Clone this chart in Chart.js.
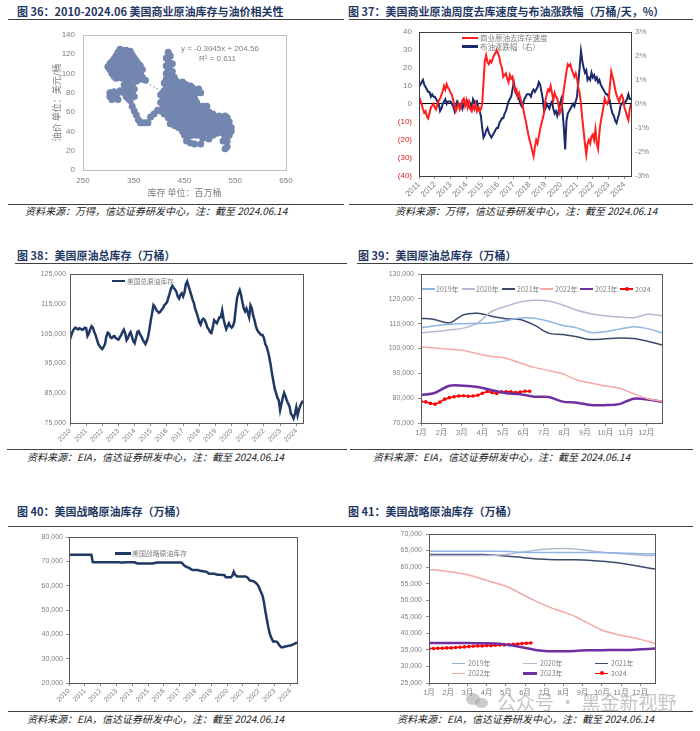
<!DOCTYPE html>
<html><head><meta charset="utf-8">
<script src="https://cdn.jsdelivr.net/npm/chart.js@4.4.1/dist/chart.umd.min.js"></script>
<style>
body{margin:0;background:#fff;width:700px;height:731px;position:relative;overflow:hidden;font-family:'Noto Sans CJK SC',sans-serif;}
.t{position:absolute;font-weight:700;color:#1f3864;font-size:11px;white-space:nowrap;line-height:1;}
.r{position:absolute;height:1px;background:#404040;}
.s{position:absolute;font-style:italic;font-size:10px;color:#222;white-space:nowrap;line-height:1;}
canvas{position:absolute;}
.lg{position:absolute;font-size:7px;color:#7f7f7f;white-space:nowrap;line-height:1;}
.ln{position:absolute;height:2px;}
.dot{position:absolute;width:4px;height:4px;border-radius:50%;background:#ff0000;}
.an{position:absolute;font-size:8px;color:#7f7f7f;white-space:nowrap;line-height:1;font-family:'Liberation Sans',sans-serif;}
.wm{position:absolute;font-size:19px;color:rgba(150,150,150,0.55);white-space:nowrap;line-height:1;z-index:5;}
.wi{position:absolute;border-radius:50%;background:rgba(160,160,160,0.55);z-index:5;}
</style></head><body>

<div class="t" style="left:17px;top:6px">图 36：2010-2024.06 美国商业原油库存与油价相关性</div>
<div class="t" style="left:348px;top:6px">图 37：美国商业原油周度去库速度与布油涨跌幅（万桶/天，%）</div>
<div class="t" style="left:17px;top:250px">图 38：美国原油总库存（万桶）</div>
<div class="t" style="left:358px;top:250px">图 39：美国原油总库存（万桶）</div>
<div class="t" style="left:17px;top:506px">图 40：美国战略原油库存（万桶）</div>
<div class="t" style="left:348px;top:506px">图 41：美国战略原油库存（万桶）</div>

<div class="r" style="left:8px;top:19px;width:336px"></div>
<div class="r" style="left:349px;top:19px;width:344px"></div>
<div class="r" style="left:15px;top:263px;width:332px"></div>
<div class="r" style="left:357px;top:263px;width:336px"></div>
<div class="r" style="left:8px;top:526px;width:342px"></div>
<div class="r" style="left:350px;top:526px;width:343px"></div>

<div class="r" style="left:8px;top:204px;width:336px"></div>
<div class="r" style="left:349px;top:204px;width:344px"></div>
<div class="r" style="left:7px;top:449px;width:340px"></div>
<div class="r" style="left:350px;top:449px;width:343px"></div>
<div class="r" style="left:8px;top:711px;width:342px"></div>
<div class="r" style="left:350px;top:711px;width:343px"></div>

<div class="s" style="left:25px;top:206px">资料来源：万得，信达证券研发中心，注：截至 2024.06.14</div>
<div class="s" style="left:395px;top:206px">资料来源：万得，信达证券研发中心，注：截至 2024.06.14</div>
<div class="s" style="left:27px;top:452px">资料来源：EIA，信达证券研发中心，注：截至 2024.06.14</div>
<div class="s" style="left:373px;top:452px">资料来源：EIA，信达证券研发中心，注：截至 2024.06.14</div>
<div class="s" style="left:27px;top:714px">资料来源：EIA，信达证券研发中心，注：截至 2024.06.14</div>
<div class="s" style="left:397px;top:714px">资料来源：EIA，信达证券研发中心，注：截至 2024.06.14</div>

<canvas id="c36" width="260" height="180" style="left:45px;top:22px"></canvas>
<canvas id="c37" width="295" height="185" style="left:370px;top:20px"></canvas>
<canvas id="c38" width="295" height="182" style="left:15px;top:265px"></canvas>
<canvas id="c39" width="312" height="180" style="left:360px;top:265px"></canvas>
<canvas id="c40" width="292" height="180" style="left:15px;top:528px"></canvas>
<canvas id="c41" width="300" height="180" style="left:365px;top:525px"></canvas>

<!-- chart 36 annotation -->
<div class="an" style="left:181px;top:45px">y = -0.3045x + 204.56</div>
<div class="an" style="left:199px;top:55px">R² = 0.611</div>

<!-- chart 37 legend -->
<div class="ln" style="left:462px;top:36.5px;width:16px;height:2.5px;background:#ff1f1f"></div>
<div class="lg" style="left:480px;top:34px;font-size:7.5px">商业原油去库存速度</div>
<div class="ln" style="left:462px;top:45px;width:16px;height:2.5px;background:#1b2a6b"></div>
<div class="lg" style="left:480px;top:42.5px;font-size:7.5px">布油涨跌幅（右）</div>

<!-- chart 38 legend -->
<div class="ln" style="left:112px;top:279.5px;width:13px;height:2.5px;background:#1f3864"></div>
<div class="lg" style="left:127px;top:277.5px;font-size:6.7px">美国总原油库存</div>

<!-- chart 40 legend -->
<div class="ln" style="left:115px;top:552px;width:16px;height:2.5px;background:#1f3864"></div>
<div class="lg" style="left:132px;top:550px;font-size:6.9px">美国战略原油库存</div>

<!-- chart 39 legend -->
<div class="ln" style="left:422px;top:288px;width:13px;height:1.5px;background:#8eb4e3"></div>
<div class="lg" style="left:436px;top:285.5px">2019年</div>
<div class="ln" style="left:462px;top:288px;width:13px;height:1.5px;background:#b4bad3"></div>
<div class="lg" style="left:476px;top:285.5px">2020年</div>
<div class="ln" style="left:502px;top:288px;width:13px;height:1.5px;background:#3b4a6b"></div>
<div class="lg" style="left:517px;top:285.5px">2021年</div>
<div class="ln" style="left:540px;top:288px;width:13px;height:1.5px;background:#f6a8a6"></div>
<div class="lg" style="left:555px;top:285.5px">2022年</div>
<div class="ln" style="left:580px;top:287.5px;width:13px;height:2.5px;background:#7030a0"></div>
<div class="lg" style="left:595px;top:285.5px">2023年</div>
<div class="ln" style="left:620px;top:288px;width:13px;height:1.5px;background:#ff0000"></div>
<div class="dot" style="left:624.5px;top:286.7px"></div>
<div class="lg" style="left:635px;top:285.5px">2024</div>

<!-- chart 41 legend -->
<div class="ln" style="left:452px;top:662.5px;width:13px;height:1.5px;background:#8eb4e3"></div>
<div class="lg" style="left:468px;top:660px">2019年</div>
<div class="ln" style="left:523px;top:662.5px;width:14px;height:1.5px;background:#b4bad3"></div>
<div class="lg" style="left:540px;top:660px">2020年</div>
<div class="ln" style="left:595px;top:662.5px;width:13px;height:1.5px;background:#3b4a6b"></div>
<div class="lg" style="left:611px;top:660px">2021年</div>
<div class="ln" style="left:452px;top:672.5px;width:13px;height:1.5px;background:#f6a8a6"></div>
<div class="lg" style="left:468px;top:670px">2022年</div>
<div class="ln" style="left:523px;top:672px;width:14px;height:2.5px;background:#7030a0"></div>
<div class="lg" style="left:540px;top:670px">2023年</div>
<div class="ln" style="left:595px;top:672.5px;width:13px;height:1.5px;background:#ff0000"></div>
<div class="dot" style="left:599.5px;top:671.2px"></div>
<div class="lg" style="left:611px;top:670px">2024</div>

<!-- watermark -->
<div class="wi" style="left:466px;top:693px;width:14px;height:12px"></div>
<div class="wi" style="left:475px;top:698px;width:13px;height:10px"></div>
<div class="wm" style="left:497px;top:692px">公众号 · 黑金新视野</div>

<script>
// ---------------- DATA ----------------
// Chart 36: commercial crude stocks (million bbl) vs oil price (USD/bbl); columns [stock, [prices...]]
const scatterCols36 = [
  [299,[107]],
  [303,[104,110,76,80]],
  [307,[112,100,73,78]],
  [311,[115,106,97,75,81]],
  [315,[118,110,102,95,77]],
  [319,[122,114,106,99,80,73]],
  [323,[125,120,111,103,96,82]],
  [327,[124,117,108,100,95]],
  [331,[122,114,106,97,88,80]],
  [335,[124,118,110,102,94,85,76]],
  [339,[121,113,105,98,90,82,74]],
  [343,[123,116,108,100,86,78,72]],
  [347,[119,111,104,95,88,80,66]],
  [351,[116,108,100,84,76,61]],
  [355,[113,106,98,92,57]],
  [359,[110,103,96,52]],
  [363,[108,100,94,49]],
  [367,[104,96,49]],
  [373,[93,49]],
  [378,[49]],
  [383,[55]],
  [390,[58]],
  [397,[62]],
  [403,[61,70,78]],
  [407,[64,72,80]],
  [410,[58,66,74,82,90]],
  [414,[100,108,116,62,70,78,86,94]],
  [418,[122,113,104,54,60,68,76,84,90,97]],
  [422,[118,109,100,48,56,64,72,80,88,94]],
  [426,[110,102,50,58,66,74,82,90]],
  [430,[96,46,54,62,70,78,86]],
  [434,[92,50,58,66,74,82,88]],
  [438,[44,52,60,68,76,84,90]],
  [442,[48,56,64,72,80,88]],
  [446,[40,46,54,62,70,78,86,91]],
  [450,[36,44,52,60,68,76,84,89]],
  [454,[30,40,48,56,64,72,80,88]],
  [458,[35,44,52,60,68,76,84]],
  [462,[28,40,48,56,64,72,80,87]],
  [466,[36,44,52,60,68,78,85]],
  [470,[27,40,48,56,64,74,83]],
  [474,[36,44,52,60,70,80]],
  [478,[40,48,56,66,84]],
  [482,[27,36,44,52,62,80]],
  [486,[33,40,48,56,66]],
  [490,[38,46,54,62]],
  [494,[42,50,58,66]],
  [498,[32,38,46,54,60]],
  [502,[40,48,56]],
  [506,[36,44,52,58]],
  [510,[40,48,55]],
  [514,[38,46,54]],
  [518,[42,50,56]],
  [522,[40,48,55]],
  [526,[30,38,46,54]],
  [530,[22,35,44,52,56]],
  [534,[24,30,40,48,54]],
  [538,[36,42,50]],
  [542,[40,44]]
];
const trendStock36 = [299, 545];
const trendPrice36 = [113.5, 38.6];

// Chart 37: monthly from 2011-01
const start37 = 2011;
const yearTicks37 = [2011,2012,2013,2014,2015,2016,2017,2018,2019,2020,2021,2022,2023,2024];
const draw37 = [ // 商业原油去库存速度 (万桶/天)
  4,2,0,-3,-5,-4,-7,-8,-5,-2,-1,0,
  -2,-3,0,2,3,5,7,10,8,11,9,8,
  6,5,2,-1,-4,-2,0,-3,-1,2,3,-1,
  2,-2,1,-3,-4,-1,-3,0,-4,-2,-4,-3,
  0,12,24,27,23,22,24,23,25,27,28,30,
  28,26,22,20,15,16,17,14,12,16,14,15,
  10,7,8,4,6,3,1,-2,-6,-9,-13,-17,
  -20,-23,-26,-29,-24,-20,-22,-18,-14,-11,-8,-5,
  2,5,8,7,10,6,2,6,4,3,-1,-5,
  -3,2,8,13,18,22,21,22,19,17,15,17,
  14,9,6,0,-8,-15,-22,-28,-22,-20,-22,-18,
  -17,-20,-14,-22,-25,-16,-10,-6,-2,3,1,0,
  2,10,18,15,12,8,5,3,1,4,5,3,
  -2,-4,-7,-9,-3,0
];
const brent37 = [ // 布油涨跌幅 (%)
  0.7,0.8,0.9,1.0,0.8,0.7,0.6,0.5,0.5,0.3,0.4,0.3,
  0.3,0.2,0.1,0.0,-0.3,-0.2,0.0,0.1,0.2,0.0,0.1,0.1,
  0.1,0.0,-0.1,-0.3,-0.1,0.1,0.0,-0.1,0.0,-0.2,0.0,0.1,
  0.0,0.1,-0.1,0.0,-0.2,0.2,0.1,0.0,0.1,-0.1,-0.3,-0.5,
  -1.0,-1.4,-1.3,-1.1,-1.0,-1.2,-1.3,-1.4,-1.3,-1.2,-1.1,-1.0,
  -1.0,-0.8,-0.7,-0.6,-0.6,-0.4,-0.3,-0.1,0.1,0.2,0.3,0.6,
  0.9,0.6,0.4,0.3,0.2,0.0,-0.1,0.0,0.2,0.3,0.4,0.4,
  0.4,0.3,0.5,0.6,0.5,0.6,0.7,0.9,0.8,0.5,0.2,-0.3,
  -0.2,0.0,-0.1,-0.2,0.0,0.1,-0.2,-0.4,-0.3,-0.5,-0.3,0.0,
  0.2,-0.3,-1.0,-1.9,-0.7,-0.4,-0.3,-0.2,-0.1,0.0,-0.1,0.1,
  0.3,0.9,1.5,2.2,1.8,1.5,1.3,1.4,1.0,1.1,1.0,1.3,
  1.1,1.2,1.0,1.1,0.9,1.0,0.8,0.7,0.6,0.5,0.4,0.4,
  0.3,0.1,-0.2,-0.4,-0.5,-0.7,-0.8,-0.6,-0.4,-0.1,0.0,0.1,
  0.0,0.1,0.2,0.4,0.2,0.2
];

// Chart 38 & 40: monthly from 2010-01 (万桶)
const start38 = 2010;
const yearTicks38 = [2010,2011,2012,2013,2014,2015,2016,2017,2018,2019,2020,2021,2022,2023,2024];
const total38 = [
  103100,104500,105800,106500,107000,106700,106400,106800,106600,106300,106500,107000,
  106800,104200,105000,106500,107500,107000,105500,104500,103000,101500,100800,100200,
  99800,100600,101500,104000,105300,105000,103800,103500,104000,104200,103500,103200,
  103000,103800,104500,105500,106300,105000,102800,103500,104800,105500,104000,102500,
  101800,103500,105500,105800,104800,104000,103000,102200,101500,102500,104000,106500,
  109500,112000,114600,114000,113000,112500,112000,112300,113000,113500,114500,115000,
  115500,117000,118500,120200,121000,120300,119800,119000,117500,116800,118000,118500,
  117500,118800,121500,122500,121000,119500,118000,116500,115200,113200,112000,110500,
  108800,108000,109500,110000,109600,108500,107000,106500,105500,105200,107000,109500,
  109000,108500,109500,110500,110500,112800,110000,108000,106500,107500,108500,107500,
  107000,107500,109000,113000,116800,118500,119600,118000,115500,113500,112500,113400,
  112000,110500,114500,113500,111000,109500,107500,106200,105500,105000,104500,104500,
  103500,101500,100600,99000,97000,94500,91500,89000,86500,85000,83500,82600,
  79300,81500,83500,85100,84000,82500,81500,80500,78200,77500,76500,78000,
  80200,77600,79500,80800,81800,82500
];
const spr40 = [
  72700,72700,72700,72700,72700,72700,72700,72700,72700,72700,72700,72700,
  72700,72700,72700,72700,72700,72700,69700,69600,69600,69600,69600,69600,
  69600,69600,69600,69600,69600,69600,69600,69600,69600,69600,69600,69600,
  69600,69600,69600,69500,69500,69500,69500,69600,69600,69600,69600,69600,
  69600,69600,69600,69300,69100,69100,69100,69100,69100,69100,69100,69100,
  69100,69100,69100,69100,69200,69300,69400,69500,69500,69500,69500,69500,
  69500,69500,69500,69500,69500,69500,69500,69500,69500,69500,69500,69500,
  69500,69500,69200,68500,68000,67800,67500,67300,67000,66600,66400,66400,
  66400,66400,66400,66200,66000,66000,65900,65800,65700,65500,65000,64900,
  64900,64900,64900,64800,64600,64500,64500,64500,64400,64400,64300,63500,
  63500,63500,63500,63500,64200,65700,64600,64000,63800,63800,63800,63800,
  63800,63800,63800,63500,63000,62200,62000,62000,61800,61500,61000,60500,
  59500,58200,57000,55600,53000,49500,46500,43500,41000,39200,38000,37000,
  37100,37000,36800,36000,35200,34700,34700,34800,35000,35100,35200,35300,
  35400,35600,35900,36100,36400,36700
];

// Chart 39 & 41: seasonal, x = week of year
const monthLabels = ['1月','2月','3月','4月','5月','6月','7月','8月','9月','10月','11月','12月'];
const weeks = [0,3,6,9,12,15,18,21,24,27,30,33,36,39,42,45,48,51];
const weeks2024 = [0,1,2,3,4,5,6,7,8,9,10,11,12,13,14,15,16,17,18,19,20,21,22,23];
const tot39_2019 = [108400,109200,109800,110000,110100,110400,111200,112300,112200,111000,109300,108300,106400,106800,107800,108800,108000,106300];
const tot39_2020 = [106300,106800,107500,108200,110300,115000,117000,118700,119400,119100,117500,115400,114000,113200,112700,112400,113800,113200];
const tot39_2021 = [112200,111600,110300,113600,114200,113000,112000,111700,109400,106200,105600,104700,103600,103900,104200,104000,102900,101400];
const tot39_2022 = [100700,100200,99700,99200,97900,96800,96100,94200,92400,91100,89800,87300,86100,84900,84000,81800,79800,78800];
const tot39_2023 = [81200,82200,85000,85000,84500,83200,82000,81600,80600,80500,78600,78200,77200,77200,77600,79800,79500,78500];
const tot39_2024 = [78700,78500,77900,77600,78400,79600,80200,80600,80900,81000,80800,80900,81200,82000,82700,82300,81900,82600,82600,82600,82300,82500,82800,82800];
const spr41_2019 = [64800,64800,64800,64800,64800,64800,64700,64500,64400,64400,64400,64400,64400,64400,64300,64200,64000,64000];
const spr41_2020 = [63500,63500,63500,63500,63500,63600,63900,64500,65100,65500,65600,65500,65000,64500,64200,63900,63600,63500];
const spr41_2021 = [63800,63800,63800,63800,63800,63600,63300,62900,62500,62300,62200,62200,62100,61800,61400,60800,60100,59400];
const spr41_2022 = [59300,58900,58400,57600,56400,55200,53900,51800,49800,48000,46600,45100,43000,41000,39800,39000,38100,36900];
const spr41_2023 = [37100,37100,37100,37100,37000,36900,36500,35800,35000,34600,34600,34700,34900,34900,35000,35000,35200,35400];
const spr41_2024 = [35400,35400,35500,35500,35600,35600,35700,35800,35900,36000,36100,36200,36200,36300,36300,36400,36500,36500,36600,36700,36800,36900,37000,37100];

// ---------------- CHARTS ----------------
const GRAY = '#7f7f7f';
Chart.defaults.font.family = "'Liberation Sans','Noto Sans CJK SC',sans-serif";
Chart.defaults.animation = false;
Chart.register({
  id: 'box',
  afterDatasetsDraw(c, a, o) {
    const {ctx, chartArea: r} = c;
    ctx.save();
    ctx.strokeStyle = o.color || '#888';
    ctx.lineWidth = o.width || 1;
    ctx.strokeRect(Math.round(r.left) + 0.5, Math.round(r.top) + 0.5, Math.round(r.right - r.left), Math.round(r.bottom - r.top));
    ctx.restore();
  }
});
const fixW = w => s => { s.width = w; };
const fixH = h => s => { s.height = h; };
const base = (box) => ({
  responsive: false, events: [], devicePixelRatio: 1,
  plugins: { legend: { display: false }, tooltip: { enabled: false }, box: { color: box } }
});
const monthly = (arr, start) => arr.map((v, i) => ({ x: start + i / 12, y: v }));
const weekly = (xs, arr) => arr.map((v, i) => ({ x: xs[i], y: v }));
const fmt = v => Number(v).toLocaleString('en-US');
const tickMarks = { display: true, drawOnChartArea: false, drawTicks: true, tickLength: 3, color: '#8c8c8c' };
const noGrid = { display: false, drawTicks: false };

// 36
const pts36 = [];
scatterCols36.forEach(([x, ys]) => ys.forEach(y => pts36.push({ x, y })));
new Chart(document.getElementById('c36'), {
  type: 'scatter',
  data: { datasets: [
    { data: pts36, backgroundColor: '#7386b0', borderWidth: 0, pointRadius: 3.5, order: 1 },
    { type: 'line', data: weekly(trendStock36, trendPrice36), borderColor: '#8c8c8c', borderWidth: 1, borderDash: [2, 2], pointRadius: 0, showLine: true, order: 2 }
  ]},
  options: Object.assign(base('#bfbfbf'), {
    layout: { padding: { top: 10, right: 19, left: 0, bottom: 0 } },
    scales: {
      x: { type: 'linear', min: 250, max: 650, ticks: { stepSize: 100, color: GRAY, font: { size: 8 }, padding: 6 },
           grid: noGrid, border: { display: false },
           title: { display: true, text: '库存 单位：百万桶', color: GRAY, font: { size: 9, family: 'Noto Sans CJK SC' }, padding: { top: 0, bottom: 4 } },
           afterFit: fixH(32) },
      y: { min: 0, max: 140, ticks: { stepSize: 20, color: GRAY, font: { size: 8 }, padding: 8 },
           grid: noGrid, border: { display: false },
           title: { display: true, text: '油价 单位：美元/桶', color: GRAY, font: { size: 9, family: 'Noto Sans CJK SC' }, padding: { top: 6 } },
           afterFit: fixW(38) }
    }
  })
});

// 37
new Chart(document.getElementById('c37'), {
  type: 'line',
  data: { datasets: [
    { data: monthly(draw37, start37), borderColor: '#ff1f1f', borderWidth: 2, pointRadius: 0, yAxisID: 'y' },
    { data: monthly(brent37, start37), borderColor: '#1b2a6b', borderWidth: 2, pointRadius: 0, yAxisID: 'y1' }
  ]},
  options: Object.assign(base('#404040'), {
    layout: { padding: { top: 9, right: 0, left: 0, bottom: 0 } },
    scales: {
      x: { type: 'linear', min: start37, max: start37 + (draw37.length - 1) / 12,
           afterBuildTicks: s => { s.ticks = yearTicks37.map(v => ({ value: v })); },
           ticks: { autoSkip: false, minRotation: 45, maxRotation: 45, color: GRAY, font: { size: 8 }, padding: 1, callback: v => String(v) },
           grid: tickMarks, border: { display: false }, afterFit: fixH(29) },
      y: { position: 'left', min: -40, max: 40,
           ticks: { stepSize: 10, font: { size: 8 }, padding: 7,
                    color: c => (c.tick && c.tick.value < 0) ? '#e0201f' : GRAY,
                    callback: v => v < 0 ? '(' + (-v) + ')' : String(v) },
           grid: { drawTicks: false, color: c => (c.tick && c.tick.value === 0) ? '#000' : 'rgba(0,0,0,0)', lineWidth: 1 },
           border: { display: false }, afterFit: fixW(49) },
      y1: { position: 'right', min: -3, max: 3,
            ticks: { stepSize: 1, font: { size: 8 }, padding: 4, color: GRAY, callback: v => v + '%' },
            grid: noGrid, border: { display: false }, afterFit: fixW(34) }
    }
  })
});

// 38
new Chart(document.getElementById('c38'), {
  type: 'line',
  data: { datasets: [
    { data: monthly(total38, start38), borderColor: '#1f3864', borderWidth: 2.5, pointRadius: 0 }
  ]},
  options: Object.assign(base('#595959'), {
    layout: { padding: { top: 9, right: 7, left: 0, bottom: 0 } },
    scales: {
      x: { type: 'linear', min: start38, max: start38 + (total38.length - 1) / 12,
           afterBuildTicks: s => { s.ticks = yearTicks38.map(v => ({ value: v })); },
           ticks: { autoSkip: false, minRotation: 45, maxRotation: 45, color: GRAY, font: { size: 7 }, padding: 1, callback: v => String(v) },
           grid: tickMarks, border: { display: false }, afterFit: fixH(24) },
      y: { min: 75000, max: 125000, ticks: { stepSize: 10000, color: GRAY, font: { size: 7 }, padding: 4, callback: fmt },
           grid: noGrid, border: { display: false }, afterFit: fixW(55) }
    }
  })
});

// 39
const seasonalX = () => ({
  type: 'linear', min: 0, max: 51,
  afterBuildTicks: s => { s.ticks = monthLabels.map((m, i) => ({ value: i * 52 / 12 })); },
  ticks: { autoSkip: false, maxRotation: 0, color: GRAY, font: { size: 7.5 }, padding: 2, callback: (v, i) => monthLabels[i] },
  grid: tickMarks, border: { display: false }, afterFit: fixH(22)
});
const seasonalSets = (a19, a20, a21, a22, a23, a24) => [
  { data: weekly(weeks, a19), borderColor: '#8eb4e3', borderWidth: 1.5, pointRadius: 0, tension: 0.3 },
  { data: weekly(weeks, a20), borderColor: '#b4bad3', borderWidth: 1.5, pointRadius: 0, tension: 0.3 },
  { data: weekly(weeks, a21), borderColor: '#3b4a6b', borderWidth: 1.5, pointRadius: 0, tension: 0.3 },
  { data: weekly(weeks, a22), borderColor: '#f6a8a6', borderWidth: 1.5, pointRadius: 0, tension: 0.3 },
  { data: weekly(weeks, a23), borderColor: '#7030a0', borderWidth: 2.5, pointRadius: 0, tension: 0.3 },
  { data: weekly(weeks2024, a24), borderColor: '#ff0000', borderWidth: 1.5, pointRadius: 1.8, pointBackgroundColor: '#ff0000', pointBorderWidth: 0, tension: 0 }
];
new Chart(document.getElementById('c39'), {
  type: 'line',
  data: { datasets: seasonalSets(tot39_2019, tot39_2020, tot39_2021, tot39_2022, tot39_2023, tot39_2024) },
  options: Object.assign(base('#595959'), {
    layout: { padding: { top: 9, right: 10, left: 0, bottom: 0 } },
    scales: {
      x: seasonalX(),
      y: { min: 70000, max: 130000, ticks: { stepSize: 10000, color: GRAY, font: { size: 7 }, padding: 4, callback: fmt },
           grid: tickMarks, border: { display: false }, afterFit: fixW(61) }
    }
  })
});

// 40
new Chart(document.getElementById('c40'), {
  type: 'line',
  data: { datasets: [
    { data: monthly(spr40, start38), borderColor: '#1f3864', borderWidth: 2.5, pointRadius: 0 }
  ]},
  options: Object.assign(base('#595959'), {
    layout: { padding: { top: 9, right: 10, left: 0, bottom: 0 } },
    scales: {
      x: { type: 'linear', min: start38, max: start38 + (spr40.length - 1) / 12,
           afterBuildTicks: s => { s.ticks = yearTicks38.map(v => ({ value: v })); },
           ticks: { autoSkip: false, minRotation: 45, maxRotation: 45, color: GRAY, font: { size: 7 }, padding: 1, callback: v => String(v) },
           grid: tickMarks, border: { display: false }, afterFit: fixH(25) },
      y: { min: 20000, max: 80000, ticks: { stepSize: 10000, color: GRAY, font: { size: 7 }, padding: 3, callback: fmt },
           grid: tickMarks, border: { display: false }, afterFit: fixW(54) }
    }
  })
});

// 41
new Chart(document.getElementById('c41'), {
  type: 'line',
  data: { datasets: seasonalSets(spr41_2019, spr41_2020, spr41_2021, spr41_2022, spr41_2023, spr41_2024) },
  options: Object.assign(base('#595959'), {
    layout: { padding: { top: 9, right: 10, left: 0, bottom: 0 } },
    scales: {
      x: seasonalX(),
      y: { min: 25000, max: 70000, ticks: { stepSize: 5000, color: GRAY, font: { size: 7 }, padding: 4, callback: fmt },
           grid: tickMarks, border: { display: false }, afterFit: fixW(64) }
    }
  })
});
</script>
</body></html>
